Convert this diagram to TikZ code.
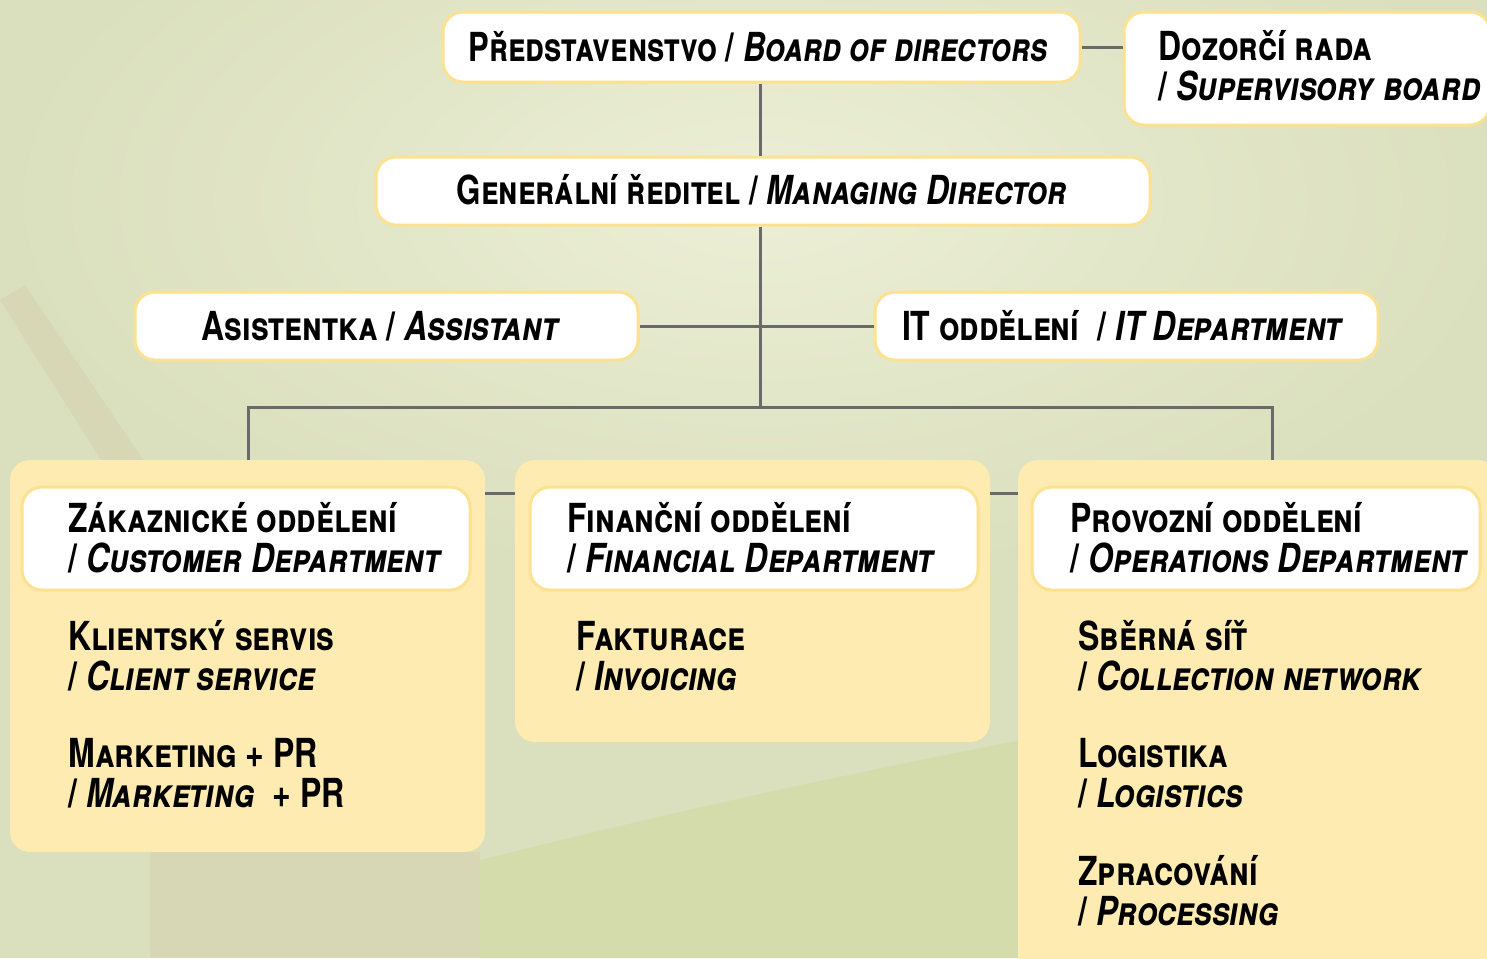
\documentclass[tikz,border=0pt]{standalone}
\usepackage{fontspec}
\setmainfont{TeX Gyre Heros}[FakeStretch=0.8]
\usetikzlibrary{positioning}
\definecolor{linegray}{HTML}{6A6A6A}
\definecolor{boxrim}{HTML}{FCE290}
\definecolor{panelfill}{HTML}{FEEBB1}
\definecolor{bgsage}{HTML}{DADFBD}
\definecolor{bglight}{HTML}{ECEFD6}
\definecolor{bgbeige}{HTML}{D6CFAF}
\definecolor{bggreen}{HTML}{D3DBA6}
\newcommand{\cz}[1]{\textsc{#1}}
\newcommand{\en}[1]{\textit{\textsc{#1}}}
\tikzset{
  orgbox/.style={draw=boxrim, line width=1.5pt, fill=white, rounded corners=10pt},
  panel/.style={fill=panelfill, rounded corners=10pt},
  link/.style={draw=linegray, line width=1.5pt},
  lbl/.style={inner sep=0pt, align=left, font=\bfseries\fontsize{20pt}{20pt}\selectfont}
}
\begin{document}
\begin{tikzpicture}[x=0.5pt,y=-0.5pt]
\useasboundingbox (0,0) rectangle (1487,958);
% background
\fill[bgsage] (0,0) rectangle (1487,958);
\shade[inner color=bglight, outer color=bgsage] (760,200) ellipse (760 and 380);
\fill[bggreen, opacity=.7] (480,958) -- (480,860) .. controls (800,780) and (1100,720) .. (1487,660) -- (1487,958) -- cycle;
\fill[bgbeige, opacity=.5] (0,300) -- (25,285) -- (150,470) -- (120,490) -- cycle;
\fill[bgbeige, opacity=.5] (150,852) -- (480,852) -- (480,958) -- (150,958) -- cycle;
% top boxes
\node[orgbox, minimum width=318.5pt, minimum height=35pt] (board) at (761.5,47) {};
\node[lbl, xscale=.97] (boardtxt) at (758,47) {\cz{Představenstvo} / \en{Board of directors}};
\node[orgbox, minimum width=183pt, minimum height=56.5pt] (superv) at (1307,68.5) {};
\node[lbl, anchor=base west] (supervtxt) at (1158,100) {\cz{Dozorčí rada}\\ / \en{Supervisory board}};
\node[orgbox, minimum width=387pt, minimum height=34pt] (md) at (763,191) {};
\node[lbl, xscale=.98] (mdtxt) at (762,190) {\cz{Generální ředitel} / \en{Managing Director}};
\node[orgbox, minimum width=251.5pt, minimum height=34pt] (asst) at (386.5,326) {};
\node[lbl] (assttxt) at (381,326) {\cz{Asistentka} / \en{Assistant}};
\node[orgbox, minimum width=251.5pt, minimum height=34pt] (itdep) at (1126.5,326) {};
\node[lbl] (ittxt) at (1123,326) {\cz{IT oddělení}\ \ / \en{IT Department}};
% department panels
\node[panel, minimum width=237.5pt, minimum height=196pt] (custpanel) at (247.5,656) {};
\node[panel, minimum width=237.5pt, minimum height=141pt] (finpanel) at (752.5,601) {};
\node[panel, minimum width=240pt, minimum height=260pt] (opspanel) at (1258,720) {};
\node[orgbox, minimum width=224pt, minimum height=51.5pt] (custhead) at (246,538.5) {};
\node[orgbox, minimum width=224pt, minimum height=51.5pt] (finhead) at (754,538.5) {};
\node[orgbox, minimum width=224pt, minimum height=51.5pt] (opshead) at (1256,538.5) {};
\node[lbl, anchor=base west] (custtxt) at (68,572) {\cz{Zákaznické oddělení}\\ / \en{Customer Department}};
\node[lbl, anchor=base west] (fintxt) at (567,572) {\cz{Finanční oddělení}\\ / \en{Financial Department}};
\node[lbl, anchor=base west] (opstxt) at (1070,572) {\cz{Provozní oddělení}\\ / \en{Operations Department}};
% sections
\node[lbl, anchor=base west] (client) at (68,690) {\cz{Klientský servis}\\ / \en{Client service}};
\node[lbl, anchor=base west] (mkt) at (68,807) {\cz{Marketing + PR}\\ / \en{Marketing} \ + PR};
\node[lbl, anchor=base west] (invoice) at (576,690) {\cz{Fakturace}\\ / \en{Invoicing}};
\node[lbl, anchor=base west] (collect) at (1078,690) {\cz{Sběrná síť}\\ / \en{Collection network}};
\node[lbl, anchor=base west] (logist) at (1078,807) {\cz{Logistika}\\ / \en{Logistics}};
\node[lbl, anchor=base west] (process) at (1078,925) {\cz{Zpracování}\\ / \en{Processing}};
% connectors
\coordinate (fork) at (760,407);
\draw[link] (board.east) -- (board.east -| superv.west);
\draw[link] (board.south -| fork) -- (md.north -| fork);
\draw[link] (md.south -| fork) -- (fork);
\draw[link] (asst.east) -- (itdep.west);
\draw[link] (custpanel.north -| 248,0) |- (fork) -| (opspanel.north -| 1272,0);
\draw[link] (custpanel.east |- 0,493) -- (finpanel.west |- 0,493);
\draw[link] (finpanel.east |- 0,493) -- (opspanel.west |- 0,493);
\end{tikzpicture}
\end{document}
